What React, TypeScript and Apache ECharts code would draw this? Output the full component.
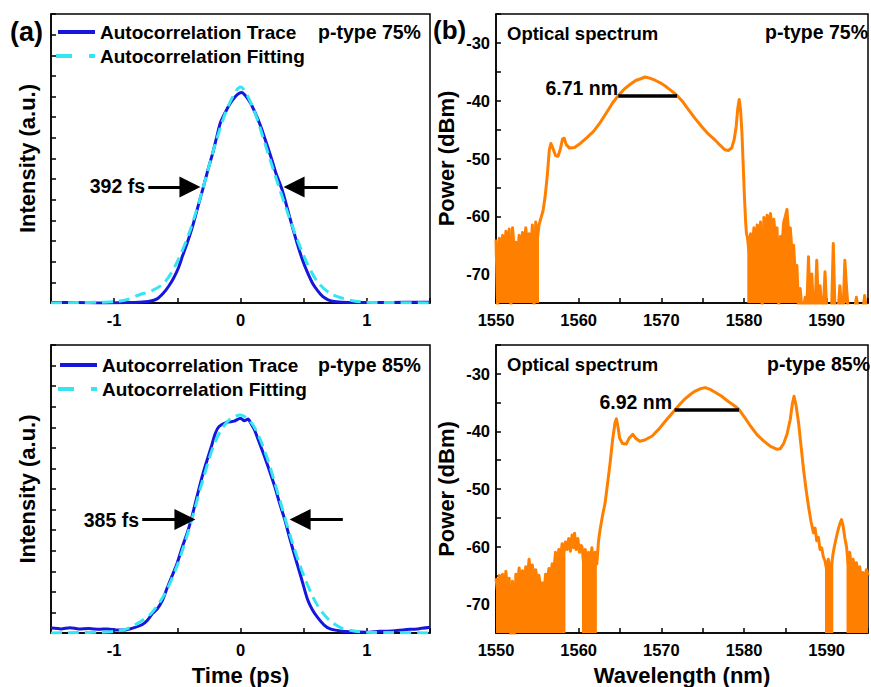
import React, { useEffect, useRef } from 'react';
import * as echarts from 'echarts';

const FONT = '"Liberation Sans", Arial, sans-serif';
const BLUE = '#1616dc';
const CYAN = '#33e6f2';
const ORANGE = '#ff8000';

// ---------- (a) autocorrelation, p-type 75% ----------
const trace75: number[][] = [
  [-1.5, 0.01], [-1.3, 0.01], [-1.1, 0.0], [-0.9, 0.01], [-0.8, 0.02], [-0.72, 0.04], [-0.66, 0.1],
  [-0.61, 0.24], [-0.57, 0.4], [-0.53, 0.6], [-0.49, 0.86], [-0.46, 1.13], [-0.42, 1.47], [-0.38, 1.85],
  [-0.34, 2.3], [-0.3, 2.74], [-0.26, 3.2], [-0.22, 3.63], [-0.19, 4.0], [-0.16, 4.36], [-0.12, 4.62],
  [-0.08, 4.84], [-0.04, 5.0], [-0.01, 5.08], [0.01, 5.1], [0.04, 5.02], [0.08, 4.84], [0.12, 4.58],
  [0.16, 4.28], [0.2, 3.92], [0.24, 3.55], [0.28, 3.15], [0.33, 2.74], [0.37, 2.3], [0.41, 1.85],
  [0.45, 1.43], [0.49, 1.05], [0.53, 0.74], [0.57, 0.48], [0.61, 0.3], [0.65, 0.16], [0.69, 0.08],
  [0.73, 0.04], [0.8, 0.02], [0.9, 0.01], [1.1, 0.01], [1.3, 0.02], [1.5, 0.02],
];
const fit75: number[][] = [
  [-1.5, 0.0], [-1.3, 0.01], [-1.1, 0.02], [-1.0, 0.03], [-0.9, 0.08], [-0.8, 0.2], [-0.7, 0.3],
  [-0.6, 0.5], [-0.5, 1.0], [-0.4, 1.75], [-0.3, 2.75], [-0.2, 3.85], [-0.1, 4.75], [0, 5.23],
  [0.1, 4.72], [0.2, 3.8], [0.3, 2.85], [0.4, 1.95], [0.5, 1.15], [0.6, 0.55], [0.7, 0.25],
  [0.8, 0.12], [0.9, 0.05], [1.0, 0.02], [1.2, 0.01], [1.5, 0.0],
];
const arrow75: number[][] = [[-0.73, -0.4], [0.77, 0.424]];
const arrowY75 = 2.81;

// ---------- (a) autocorrelation, p-type 85% ----------
const trace85: number[][] = [
  [-1.5, 0.12], [-1.42, 0.1], [-1.35, 0.13], [-1.28, 0.1], [-1.2, 0.11], [-1.12, 0.09], [-1.05, 0.1],
  [-0.98, 0.07], [-0.9, 0.08], [-0.84, 0.13], [-0.78, 0.2], [-0.74, 0.3], [-0.7, 0.46], [-0.66, 0.58],
  [-0.62, 0.78], [-0.58, 1.1], [-0.54, 1.4], [-0.5, 1.71], [-0.46, 2.1], [-0.42, 2.45], [-0.39, 2.76],
  [-0.35, 3.25], [-0.31, 3.73], [-0.27, 4.15], [-0.23, 4.54], [-0.2, 4.85], [-0.17, 5.02], [-0.11, 5.12],
  [-0.05, 5.15], [0, 5.22], [0.03, 5.16], [0.06, 5.2], [0.09, 5.05], [0.11, 4.94], [0.15, 4.62],
  [0.19, 4.29], [0.23, 3.94], [0.27, 3.57], [0.31, 3.15], [0.35, 2.76], [0.39, 2.3], [0.43, 1.87],
  [0.48, 1.35], [0.53, 0.82], [0.57, 0.56], [0.61, 0.38], [0.66, 0.2], [0.71, 0.1], [0.79, 0.05],
  [0.87, 0.03], [1.0, 0.02], [1.1, 0.04], [1.2, 0.05], [1.3, 0.08], [1.4, 0.1], [1.5, 0.14],
];
const fit85: number[][] = [
  [-1.5, 0.0], [-1.3, 0.01], [-1.1, 0.02], [-1.0, 0.04], [-0.9, 0.1], [-0.8, 0.26], [-0.7, 0.5],
  [-0.6, 0.95], [-0.5, 1.65], [-0.4, 2.6], [-0.3, 3.7], [-0.2, 4.65], [-0.1, 5.15], [0, 5.3],
  [0.1, 5.05], [0.2, 4.35], [0.3, 3.35], [0.4, 2.3], [0.5, 1.4], [0.6, 0.72], [0.7, 0.32],
  [0.8, 0.12], [0.9, 0.05], [1.0, 0.02], [1.2, 0.01], [1.5, 0.0],
];
const arrow85: number[][] = [[-0.778, -0.44], [0.81, 0.472]];
const arrowY85 = 2.76;

// ---------- (b) optical spectra ----------
const NOISE_STEP = 0.2; // nm, sampling of the noisy floor
const spec75NoiseLeft = [
  -64, -76, -63.8, -67, -63.3, -66, -62.6, -66, -62.2, -76, -62.0, -65.5, -64.5, -67,
  -63.3, -66, -62.8, -65, -62.0, -65, -63.0, -66, -61.5, -76, -61.0, -64, -61.5,
];
const spec75Body: number[][] = [
  [1555.4, -60.5], [1555.7, -59], [1555.95, -56.5], [1556.2, -53], [1556.45, -48.5], [1556.65, -47.4],
  [1556.9, -48.3], [1557.2, -49.5], [1557.5, -49.6], [1557.8, -48.3], [1558.05, -46.6], [1558.25, -46.5],
  [1558.5, -47.6], [1558.9, -48.2], [1559.5, -48.1], [1560.2, -47.4], [1561.0, -46.4], [1561.8, -45.3],
  [1562.6, -43.8], [1563.4, -42], [1564.1, -40.4], [1564.8, -39.1], [1565.5, -38.0], [1566.2, -37.2],
  [1566.9, -36.5], [1567.5, -36.2], [1568.05, -35.9], [1568.6, -36.1], [1569.3, -36.5], [1570.0, -37.0],
  [1570.6, -37.6], [1571.3, -38.4], [1571.9, -39.1], [1572.6, -40.2], [1573.3, -41.6], [1574.1, -43.1],
  [1574.9, -44.5], [1575.7, -45.8], [1576.5, -46.8], [1577.1, -47.7], [1577.7, -48.5], [1578.1, -48.6],
  [1578.5, -48.2], [1578.8, -46.8], [1579.05, -44.5], [1579.25, -41.3], [1579.42, -39.8], [1579.58, -41.5],
  [1579.75, -45.5], [1579.9, -51], [1580.05, -56.5], [1580.2, -61], [1580.3, -63],
];
const spec75NoiseRight = [
  -63.5, -66, -63, -65.5, -62, -65, -61.5, -64, -61, -76, -60.2, -63, -59.8, -62.5, -59.5, -62,
  -60.5, -63.5, -62, -76, -63.5, -65, -61, -60, -58.8, -63, -62, -66, -65, -70, -68.5, -76,
  -72.5, -76, -76, -74, -76, -67, -76, -70, -76, -76, -67.6, -76, -72, -76, -76, -69.6,
  -76, -76, -76, -76, -64.7, -76, -76, -76, -72, -76, -76, -67.6, -72.3, -76, -76, -76,
  -76, -76, -74, -76, -76, -76, -76, -73.7, -76, -76,
];
const fwhm75 = [1564.8, 1571.9];
const fwhmY75 = -39.1;

const spec85NoiseLeft = [
  -65.5, -68, -65, -67, -64.8, -67, -64.3, -68, -65.5, -76, -66, -76, -64.8, -67, -63.7,
  -66.5, -64.2, -66, -63.5, -65.5, -62.2, -65, -63.2, -66, -64, -66, -65, -67.5, -66.3, -68,
  -64.8, -66, -63.8, -65, -63, -64, -61, -63, -60.5, -62, -59.5, -61, -59.2,
];
const spec85Band: number[][] = [
  [1558.6, -60.5], [1558.8, -58.6], [1559.0, -60.8], [1559.2, -58.0], [1559.4, -60.2], [1559.5, -57.7],
  [1559.7, -60.5], [1559.9, -58.6], [1560.1, -61], [1560.3, -59.8],
];
const spec85NoiseMid = [-60, -63, -60.5, -64, -61, -63, -60.2, -64, -61, -63];
const spec85Body: number[][] = [
  [1562.4, -59], [1562.6, -57], [1562.9, -54.5], [1563.2, -52.4], [1563.5, -49], [1563.8, -45.5],
  [1564.1, -41.5], [1564.4, -38.5], [1564.56, -37.8], [1564.75, -39.2], [1564.96, -41.2], [1565.3, -42.1],
  [1565.75, -42.2], [1566.1, -41.2], [1566.55, -40.5], [1566.9, -41.2], [1567.4, -41.7], [1568.0, -41.5],
  [1568.9, -40.8], [1569.7, -39.6], [1570.5, -38.2], [1571.1, -37.2], [1571.7, -36.2], [1572.3, -35.2],
  [1572.9, -34.3], [1573.5, -33.6], [1574.1, -33.0], [1574.7, -32.6], [1575.3, -32.4], [1575.9, -32.7],
  [1576.5, -33.2], [1577.3, -33.9], [1578.1, -34.8], [1578.8, -35.5], [1579.4, -36.2], [1580.1, -37.6],
  [1580.8, -39.1], [1581.6, -40.6], [1582.4, -41.7], [1583.2, -42.6], [1584.0, -43.1], [1584.4, -43.0],
  [1584.8, -42.1], [1585.2, -40.5], [1585.6, -37.9], [1585.85, -35.2], [1586.05, -33.9], [1586.3, -35.5],
  [1586.6, -38.5], [1586.9, -42.5], [1587.2, -46.6], [1587.5, -50], [1587.8, -53], [1588.1, -55.6],
  [1588.4, -57.6], [1588.6, -56.8], [1588.8, -59], [1589.0, -58.4], [1589.2, -60.5], [1589.4, -60.2],
  [1589.6, -61.8],
];
const spec85NoiseRight1 = [-62.5, -64, -62.2, -65, -63, -61];
const spec85Tail: number[][] = [
  [1591.0, -59.5], [1591.2, -58.2], [1591.4, -57], [1591.6, -56], [1591.8, -55.3], [1592.0, -56.5],
  [1592.2, -58.5],
];
const spec85NoiseRight2 = [-60, -63, -61, -64, -62.2, -64, -62.8, -65, -63.5, -66, -64.5, -66, -64, -65];
const fwhm85 = [1571.6, 1579.4];
const fwhmY85 = -36.2;

type Seg = { fill: boolean; pts: number[][] };

function sampled(start: number, values: number[]): number[][] {
  return values.map((v, i) => [Math.round((start + i * NOISE_STEP) * 100) / 100, v]);
}

const spec75Segs: Seg[] = [
  { fill: true, pts: sampled(1550.0, spec75NoiseLeft) },
  { fill: false, pts: spec75Body },
  { fill: true, pts: sampled(1580.4, spec75NoiseRight) },
];
const spec85Segs: Seg[] = [
  { fill: true, pts: sampled(1550.0, spec85NoiseLeft) },
  { fill: false, pts: spec85Band },
  { fill: true, pts: sampled(1560.4, spec85NoiseMid) },
  { fill: false, pts: spec85Body },
  { fill: true, pts: sampled(1589.8, spec85NoiseRight1) },
  { fill: false, pts: spec85Tail },
  { fill: true, pts: sampled(1592.4, spec85NoiseRight2) },
];

const lineData = (segs: Seg[]) => segs.flatMap((s) => s.pts);
const fillData = (segs: Seg[]) =>
  segs.flatMap((s) => (s.fill ? [...s.pts, [s.pts[s.pts.length - 1][0], '-']] : []));

// ---------- option ----------
const labelStyle = { color: '#000', fontSize: 16.5, fontWeight: 'bold', fontFamily: FONT };
const nameStyle = { color: '#000', fontSize: 22, fontWeight: 'bold', fontFamily: FONT };

function axisBase() {
  return {
    type: 'value',
    axisLine: { show: true, onZero: false, lineStyle: { color: '#000', width: 1.5 } },
    axisTick: { show: true, inside: true, length: 5, lineStyle: { color: '#000', width: 1.5 } },
    splitLine: { show: false },
    minorTick: { show: false },
    nameTextStyle: nameStyle,
    nameLocation: 'middle',
  };
}

function timeX(grid: number, withName: boolean) {
  return {
    ...axisBase(),
    gridIndex: grid,
    min: -1.5,
    max: 1.5,
    interval: 0.5,
    axisLabel: {
      ...labelStyle,
      margin: 8,
      formatter: (v: number) => (Number.isInteger(v) && Math.abs(v) < 1.5 ? String(v) : ''),
    },
    name: withName ? 'Time (ps)' : '',
    nameGap: 31,
  };
}
function wlX(grid: number, withName: boolean) {
  return {
    ...axisBase(),
    gridIndex: grid,
    min: 1550,
    max: 1595,
    interval: 5,
    axisLabel: {
      ...labelStyle,
      margin: 8,
      formatter: (v: number) => (Math.round(v) % 10 === 0 && v < 1595 ? String(v) : ''),
    },
    name: withName ? 'Wavelength (nm)' : '',
    nameGap: 31,
  };
}
function intY(grid: number) {
  return {
    ...axisBase(),
    gridIndex: grid,
    min: 0,
    max: 7,
    interval: 0.5,
    axisLabel: { show: false },
    name: 'Intensity (a.u.)',
    nameGap: 13,
  };
}
function powY(grid: number) {
  return {
    ...axisBase(),
    gridIndex: grid,
    min: -75,
    max: -25,
    interval: 5,
    axisLabel: {
      ...labelStyle,
      margin: 6,
      formatter: (v: number) => (Math.round(v) % 10 === 0 && v > -75 && v < -25 ? String(v) : ''),
    },
    name: 'Power (dBm)',
    nameGap: 39,
  };
}

function arrowMark(arr: number[][], y: number) {
  return {
    silent: true,
    symbol: ['none', 'triangle'],
    symbolSize: 21,
    label: { show: false },
    emphasis: { disabled: true },
    lineStyle: { color: '#000', width: 3, type: 'solid' },
    data: arr.map(([a, b]) => [{ coord: [a, y] }, { coord: [b, y] }]),
  };
}
function barMark(range: number[], y: number) {
  return {
    silent: true,
    symbol: ['none', 'none'],
    label: { show: false },
    emphasis: { disabled: true },
    lineStyle: { color: '#000', width: 3.5, type: 'solid' },
    data: [[{ coord: [range[0], y] }, { coord: [range[1], y] }]],
  };
}

function traceSeries(name: string, data: number[][], axis: number, mark: any) {
  return {
    name, type: 'line', data, xAxisIndex: axis, yAxisIndex: axis, symbol: 'none', smooth: 0.2,
    silent: true, z: 2, lineStyle: { color: BLUE, width: 3 }, markLine: mark,
  };
}
function fitSeries(name: string, data: number[][], axis: number) {
  return {
    name, type: 'line', data, xAxisIndex: axis, yAxisIndex: axis, symbol: 'none', smooth: 0.3,
    silent: true, z: 3, lineStyle: { color: CYAN, width: 3, type: [11, 6] },
  };
}
function specSeries(name: string, segs: Seg[], axis: number, mark: any) {
  return {
    name, type: 'line', data: lineData(segs), xAxisIndex: axis, yAxisIndex: axis, symbol: 'none',
    silent: true, clip: true, z: 3, lineStyle: { color: ORANGE, width: 3, join: 'round' }, markLine: mark,
  };
}
function specFill(name: string, segs: Seg[], axis: number) {
  return {
    name, type: 'line', data: fillData(segs), xAxisIndex: axis, yAxisIndex: axis, symbol: 'none',
    silent: true, clip: true, z: 2, connectNulls: false,
    lineStyle: { width: 0, opacity: 0 },
    areaStyle: { color: ORANGE, opacity: 1, origin: 'start' },
  };
}

function txt(text: string, x: number, y: number, size: number, align: string = 'left') {
  return {
    type: 'text', x, y, z: 100, silent: true,
    style: { text, fill: '#000', fontSize: size, fontWeight: 'bold', fontFamily: FONT, align, verticalAlign: 'middle' },
  };
}
function seg(x1: number, x2: number, y: number, color: string, dash?: number[]) {
  return {
    type: 'line', z: 100, silent: true,
    shape: { x1, y1: y, x2, y2: y },
    style: { stroke: color, lineWidth: 4, lineDash: dash },
  };
}

const gridBox = { show: true, borderColor: '#000', borderWidth: 1.5, backgroundColor: 'transparent', containLabel: false };

const option: any = {
  animation: false,
  backgroundColor: '#fff',
  grid: [
    { ...gridBox, left: 51, top: 14, width: 379, height: 289 },
    { ...gridBox, left: 496, top: 14, width: 378, height: 289 },
    { ...gridBox, left: 51, top: 345, width: 379, height: 289 },
    { ...gridBox, left: 496, top: 345, width: 378, height: 289 },
  ],
  xAxis: [timeX(0, false), wlX(1, false), timeX(2, true), wlX(3, true)],
  yAxis: [intY(0), powY(1), intY(2), powY(3)],
  series: [
    traceSeries('Autocorrelation Trace', trace75, 0, arrowMark(arrow75, arrowY75)),
    fitSeries('Autocorrelation Fitting', fit75, 0),
    specFill('Noise floor 75%', spec75Segs, 1),
    specSeries('Optical spectrum 75%', spec75Segs, 1, barMark(fwhm75, fwhmY75)),
    traceSeries('Autocorrelation Trace', trace85, 2, arrowMark(arrow85, arrowY85)),
    fitSeries('Autocorrelation Fitting', fit85, 2),
    specFill('Noise floor 85%', spec85Segs, 3),
    specSeries('Optical spectrum 85%', spec85Segs, 3, barMark(fwhm85, fwhmY85)),
  ],
  graphic: [
    txt('(a)', 10, 32, 27),
    txt('(b)', 433, 30, 26),
    // panel a top legend
    seg(58, 95, 32, BLUE),
    seg(56, 95, 56, CYAN, [16, 17]),
    txt('Autocorrelation Trace', 100, 32, 19),
    txt('Autocorrelation Fitting', 100, 56, 19),
    txt('p-type 75%', 318, 32, 19.5),
    txt('392 fs', 145, 186, 19.5, 'right'),
    // panel b top
    txt('Optical spectrum', 507, 33, 18.5),
    txt('p-type 75%', 868, 32, 19.5, 'right'),
    txt('6.71 nm', 618, 88, 19.5, 'right'),
    // panel a bottom legend
    seg(60, 97, 365, BLUE),
    seg(58, 97, 389, CYAN, [16, 17]),
    txt('Autocorrelation Trace', 102, 365, 19),
    txt('Autocorrelation Fitting', 102, 389, 19),
    txt('p-type 85%', 318, 365, 19.5),
    txt('385 fs', 139, 520, 19.5, 'right'),
    // panel b bottom
    txt('Optical spectrum', 507, 364, 18.5),
    txt('p-type 85%', 870, 364, 19.5, 'right'),
    txt('6.92 nm', 672, 402, 19.5, 'right'),
  ],
};

export default function App() {
  const ref = useRef<HTMLDivElement>(null);
  useEffect(() => {
    document.body.style.margin = '0';
    const chart = echarts.init(ref.current as HTMLDivElement, undefined, { renderer: 'svg' });
    chart.setOption(option);
    return () => chart.dispose();
  }, []);
  return (
    <div
      ref={ref}
      style={{ position: 'absolute', left: 0, top: 0, width: 871, height: 687, background: '#fff' }}
    />
  );
}
